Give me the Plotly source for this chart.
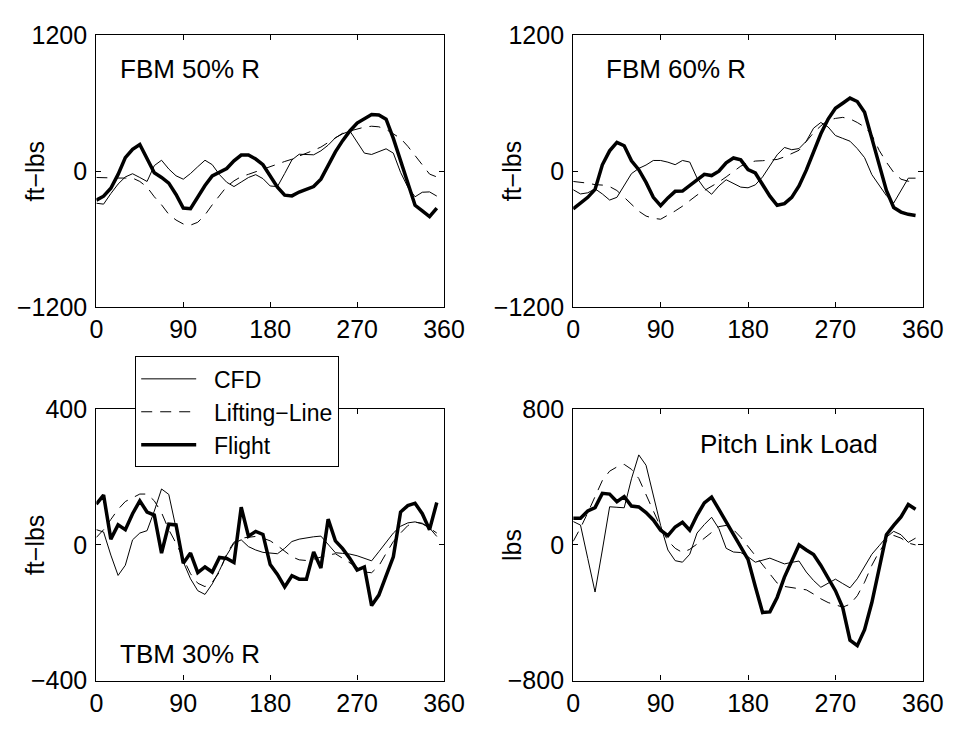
import plotly.graph_objects as go

# Azimuth (deg)
psi = [0, 7.5, 15, 22.5, 30, 37.5, 45, 52.5, 60, 67.5, 75, 82.5, 90, 97.5, 105, 112.5,
       120, 127.5, 135, 142.5, 150, 157.5, 165, 172.5, 180, 187.5, 195, 202.5, 210, 217.5,
       225, 232.5, 240, 247.5, 255, 262.5, 270, 277.5, 285, 292.5, 300, 307.5, 315, 322.5,
       330, 337.5, 345, 352.5]

# FBM 50% R (ft-lbs)
fbm50_cfd = [-282, -290, -197, -113, -50, -22, -55, -90, 50, 97, 20, -40, -70, -20, 40, 97,
             58, -30, -97, -135, -95, -55, -30, -65, -130, -135, -20, 100, 150, 150,
             145, 180, 230, 295, 330, 355, 260, 160, 148, 175, 198, 160, -10, -140,
             -225, -185, -182, -219]
fbm50_ll = [-55, -58, -60, -60, -60, -60, -90, -140, -225, -296, -380, -430, -465, -475, -450, -385,
            -296, -210, -135, -85, -47, -27, -5, 15, 35, 63, 86, 106, 134, 157,
            185, 213, 256, 298, 335, 355, 375, 389, 397, 392, 369, 330, 290, 220,
            140, 50, -25, -50]
fbm50_fl = [-255, -220, -150, -28, 120, 194, 236, 108, -13, -55, -105, -205, -324, -330, -225, -126,
            -41, -4, 24, 92, 143, 143, 108, 58, -41, -140, -211, -217, -183, -163,
            -135, -70, 58, 171, 270, 355, 425, 467, 501, 496, 459, 290, 100, -110,
            -300, -350, -400, -325]

# FBM 60% R (ft-lbs)
fbm60_cfd = [-163, -200, -190, -155, -200, -254, -230, -130, -21, 25, 55, 95, 95, 80, 58, 95,
             81, -60, -150, -203, -130, -75, -110, -140, -146, -120, -50, 50, 145, 210,
             190, 200, 265, 380, 430, 390, 315, 290, 265, 200, 120, -30, -120, -215,
             -280, -170, -61, -61]
fbm60_ll = [-90, -95, -105, -118, -122, -135, -170, -230, -295, -352, -395, -415, -423, -390, -350, -308,
            -255, -210, -170, -135, -95, -50, 0, 45, 75, 90, 93, 96, 104, 127,
            153, 185, 262, 340, 400, 450, 466, 475, 462, 430, 390, 320, 185, 80,
            -10, -70, -88, -90]
fbm60_fl = [-332, -283, -230, -160, 57, 180, 255, 225, 92, 14, -98, -230, -304, -235, -177, -175,
            -125, -75, -27, -38, 0, 75, 117, 100, 14, -15, -115, -220, -300, -285,
            -230, -130, 10, 180, 330, 460, 555, 600, 645, 615, 520, 290, 60, -170,
            -320, -360, -380, -390]

# TBM 30% R (ft-lbs)
tbm30_cfd = [45, 38, -30, -90, -60, 15, 35, 42, 100, 165, 149, 50, -50, -100, -135, -146,
             -115, -75, -30, 5, 15, -5, -15, -22, -25, -26, -10, 10, 17, 21,
             24, 26, 0, -23, -25, -27, -32, -40, -47, -20, 8, 35, 55, 65,
             68, 62, 50, 25]
tbm30_ll = [22, 45, 75, 105, 128, 140, 150, 150, 130, 95, 45, 5, -40, -85, -113, -123,
            -110, -80, -25, 8, 20, 23, 25, 20, 12, -2, -18, -35, -44, -46,
            -42, -35, -30, -26, -40, -54, -68, -80, -82, -62, -25, 10, 35, 57,
            67, 64, 50, 35]
tbm30_fl = [120, 147, 17, 59, 45, 92, 130, 97, 88, -24, 61, 59, -54, -24, -82, -65,
            -80, -37, -40, -52, 111, 26, 40, 31, -58, -87, -124, -91, -101, -101,
            -21, -68, 76, 12, -11, -40, -74, -65, -179, -148, -91, -35, 97, 116,
            123, 92, 45, 125]

# Pitch Link Load (lbs)
pll_cfd = [138, 117, -80, -278, -30, 225, 222, 219, 390, 531, 470, 300, 115, -30, -93, -102,
           -55, 70, 120, 163, 96, -20, -42, -45, -70, -102, -90, -78, -95, -112,
           -103, -95, -160, -210, -250, -225, -202, -228, -253, -200, -125, -55, -5, 45,
           80, 60, 15, 40]
pll_ll = [21, 100, 190, 290, 380, 435, 460, 475, 446, 392, 295, 195, 105, 25, -20, -45,
          -26, 5, 40, 75, 108, 115, 90, 45, -8, -62, -115, -170, -225, -245,
          -253, -258, -265, -290, -318, -340, -355, -367, -350, -300, -220, -120, -40, 20,
          56, 40, 11, 0]
pll_fl = [157, 157, 200, 220, 304, 300, 255, 285, 229, 224, 191, 147, 87, 55, 106, 134,
          87, 175, 248, 282, 210, 138, 68, -12, -85, -245, -399, -395, -310, -190,
          -93, 0, -30, -57, -121, -200, -270, -370, -562, -594, -500, -340, -140, 60,
          115, 165, 238, 210]

series_names = ["CFD", "Lifting−Line", "Flight"]
x_ticks = [0, 90, 180, 270, 360]
panels = [
    dict(cfd=fbm50_cfd, ll=fbm50_ll, fl=fbm50_fl, yr=[-1200, 1200], yt=[-1200, 0, 1200], ylab="ft−lbs", title="FBM 50% R"),
    dict(cfd=fbm60_cfd, ll=fbm60_ll, fl=fbm60_fl, yr=[-1200, 1200], yt=[-1200, 0, 1200], ylab="ft−lbs", title="FBM 60% R"),
    dict(cfd=tbm30_cfd, ll=tbm30_ll, fl=tbm30_fl, yr=[-400, 400], yt=[-400, 0, 400], ylab="ft−lbs", title="TBM 30% R"),
    dict(cfd=pll_cfd, ll=pll_ll, fl=pll_fl, yr=[-800, 800], yt=[-800, 0, 800], ylab="lbs", title="Pitch Link Load"),
]

W, H = 972, 733
xdoms = [[92 / W, 450 / W], [583 / W, 943 / W]]
ydoms = [[1 - 305 / H, 1 - 22 / H], [1 - 693 / H, 1 - 411 / H]]
pos = [(0, 0), (1, 0), (0, 1), (1, 1)]
title_px = [(114, 57), (615, 57), (114, 665), (712, 447)]

FONT = "Liberation Sans, Arial, Helvetica, sans-serif"
fig = go.Figure()
layout = dict(width=W, height=H, margin=dict(l=0, r=0, t=0, b=0),
              paper_bgcolor="white", plot_bgcolor="white",
              font=dict(family=FONT, size=25, color="black"),
              showlegend=True)
annotations = []
PAD = "\u00a0\u00a0"

for i, p in enumerate(panels):
    c, r = pos[i]
    xa = "x" if i == 0 else f"x{i+1}"
    ya = "y" if i == 0 else f"y{i+1}"
    xk = "xaxis" if i == 0 else f"xaxis{i+1}"
    yk = "yaxis" if i == 0 else f"yaxis{i+1}"
    fig.add_trace(go.Scatter(x=psi, y=p["cfd"], mode="lines", name=PAD + series_names[0],
                             line=dict(color="black", width=1), xaxis=xa, yaxis=ya,
                             showlegend=(i == 0)))
    fig.add_trace(go.Scatter(x=psi, y=p["ll"], mode="lines", name=PAD + series_names[1],
                             line=dict(color="black", width=1, dash="11px,8px"), xaxis=xa, yaxis=ya,
                             showlegend=(i == 0)))
    fig.add_trace(go.Scatter(x=psi, y=p["fl"], mode="lines", name=PAD + series_names[2],
                             line=dict(color="black", width=3.5), xaxis=xa, yaxis=ya,
                             showlegend=(i == 0)))
    common = dict(showline=True, linecolor="black", linewidth=1.3, mirror="ticks",
                  ticks="inside", ticklen=5, tickwidth=1, tickcolor="black",
                  showgrid=False, zeroline=False, fixedrange=True,
                  tickfont=dict(family=FONT, size=25, color="black"))
    layout[xk] = dict(domain=xdoms[c], range=[0, 360], tickmode="array", tickvals=x_ticks,
                      anchor=ya, **common)
    layout[yk] = dict(domain=ydoms[r], range=p["yr"], tickmode="array", tickvals=p["yt"],
                      anchor=xa, ticklabelstandoff=3, **common)
    tx, ty = title_px[i]
    annotations.append(dict(text=p["title"], x=tx / W, y=1 - ty / H, xref="paper", yref="paper",
                            xanchor="left", yanchor="middle", showarrow=False,
                            font=dict(family=FONT, size=26, color="black")))
    ax_left = [92, 583][c]
    ymid = [(22 + 305) / 2, (411 + 693) / 2][r]
    annotations.append(dict(text=p["ylab"], x=(ax_left - 63) / W, y=1 - ymid / H,
                            xref="paper", yref="paper", xanchor="center", yanchor="middle",
                            textangle=-90, showarrow=False,
                            font=dict(family=FONT, size=25, color="black")))

layout["annotations"] = annotations
layout["legend"] = dict(x=132 / W, y=1 - 356 / H, xanchor="left", yanchor="top",
                        bgcolor="white", bordercolor="black", borderwidth=1,
                        font=dict(family=FONT, size=23, color="black"),
                        itemwidth=55, tracegroupgap=0)
fig.update_layout(**layout)
fig.write_html("out.html")
